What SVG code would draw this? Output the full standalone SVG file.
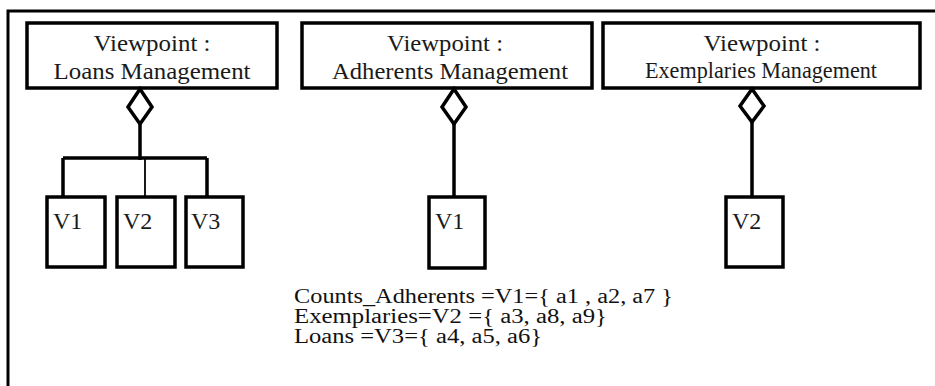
<svg xmlns="http://www.w3.org/2000/svg" width="935" height="386" viewBox="0 0 935 386">
  <style>
    .frame { fill: none; stroke: #000; stroke-width: 3; }
    .box { fill: #fff; stroke: #000; stroke-width: 3.5; }
    .vbox { fill: #fff; stroke: #000; stroke-width: 3.5; }
    .title { font-family: "Liberation Serif", "Times New Roman", serif; font-size: 24px; fill: #1a1a1a; text-anchor: middle; }
    .vlabel { font-family: "Liberation Serif", "Times New Roman", serif; font-size: 24px; fill: #1a1a1a; }
    .note { font-family: "Liberation Serif", "Times New Roman", serif; font-size: 20px; fill: #111; }
    .link { fill: none; stroke: #000; stroke-width: 3.5; }
    .thin { fill: none; stroke: #000; stroke-width: 1.8; }
    .agg { fill: #fff; stroke: #000; stroke-width: 3.5; stroke-linejoin: miter; }
  </style>

  <rect width="935" height="386" fill="#fff"/>

  <!-- enclosing frame (continues past the right and bottom edges) -->
  <rect class="frame" x="8" y="11" width="1000" height="500"/>

  <!-- viewpoints -->
  <g id="vp-loans">
    <rect class="box" x="27" y="23" width="250" height="65"/>
    <text class="title" x="152" y="51" textLength="117" lengthAdjust="spacingAndGlyphs">Viewpoint :</text>
    <text class="title" x="152" y="79" textLength="197" lengthAdjust="spacingAndGlyphs">Loans Management</text>
  </g>
  <g id="vp-adherents">
    <rect class="box" x="302" y="23" width="290" height="65"/>
    <text class="title" x="445" y="51" textLength="116" lengthAdjust="spacingAndGlyphs">Viewpoint :</text>
    <text class="title" x="450" y="79" textLength="236" lengthAdjust="spacingAndGlyphs">Adherents Management</text>
  </g>
  <g id="vp-exemplaries">
    <rect class="box" x="603" y="23" width="317" height="65"/>
    <text class="title" x="762" y="51" textLength="117" lengthAdjust="spacingAndGlyphs">Viewpoint :</text>
    <text class="title" x="761" y="78" textLength="232" lengthAdjust="spacingAndGlyphs">Exemplaries Management</text>
  </g>

  <!-- views -->
  <g id="loans-v1">
    <rect class="vbox" x="47" y="197" width="58" height="70"/>
    <text class="vlabel" x="53" y="229">V1</text>
  </g>
  <g id="loans-v2">
    <rect class="vbox" x="117" y="197" width="58" height="70"/>
    <text class="vlabel" x="123" y="229">V2</text>
  </g>
  <g id="loans-v3">
    <rect class="vbox" x="186" y="197" width="57" height="70"/>
    <text class="vlabel" x="191" y="229">V3</text>
  </g>
  <g id="adherents-v1">
    <rect class="vbox" x="429" y="197" width="56" height="71"/>
    <text class="vlabel" x="435" y="229">V1</text>
  </g>
  <g id="exemplaries-v2">
    <rect class="vbox" x="726" y="197" width="57" height="70"/>
    <text class="vlabel" x="732" y="229">V2</text>
  </g>

  <!-- aggregation connectors -->
  <g id="connectors">
    <path class="link" d="M140 124 V160 M63 158 H207 M63 158 V197 M207 158 V197"/>
    <path class="thin" d="M145 158 V197"/>
    <polygon class="agg" points="140,89 152,107 140,124 128,107"/>

    <path class="link" d="M454 124 V197"/>
    <polygon class="agg" points="454,89 466,107 454,124 442,107"/>

    <path class="link" d="M752 122 V197"/>
    <polygon class="agg" points="752,89 764,106 752,122 740,106"/>
  </g>

  <!-- view definitions -->
  <g id="definitions">
    <text class="note" x="294" y="303" textLength="379" lengthAdjust="spacingAndGlyphs">Counts_Adherents =V1={ a1 , a2, a7 }</text>
    <text class="note" x="294" y="323" textLength="313" lengthAdjust="spacingAndGlyphs">Exemplaries=V2 ={ a3, a8, a9}</text>
    <text class="note" x="294" y="343" textLength="248" lengthAdjust="spacingAndGlyphs">Loans =V3={ a4, a5, a6}</text>
  </g>
</svg>
